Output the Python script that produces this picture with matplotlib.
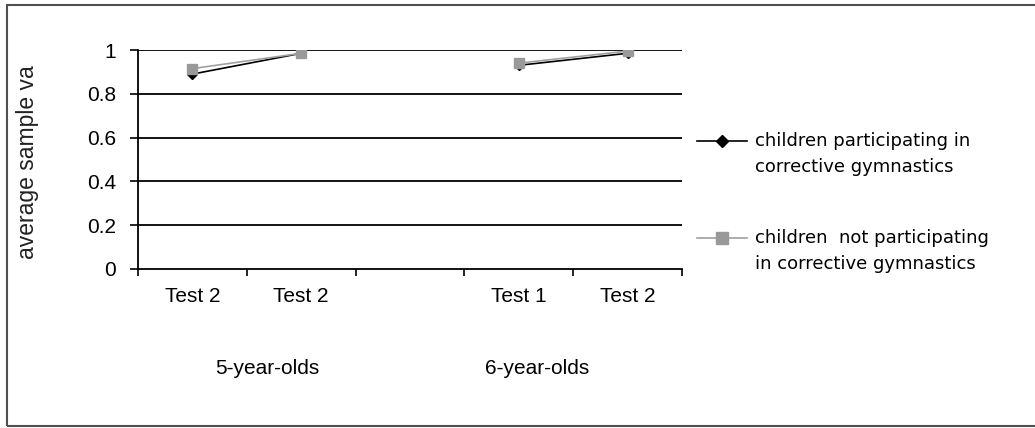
import numpy as np
import matplotlib
matplotlib.use("Agg")
import matplotlib.pyplot as plt
from matplotlib.patches import Rectangle
from matplotlib.lines import Line2D

plt.rcParams['font.family'] = ['Liberation Sans', 'DejaVu Sans']

# slot labels (slot 2 is an empty gap between age groups)
tick_labels = ["Test 2", "Test 2", "", "Test 1", "Test 2"]
group_labels = ["5-year-olds", "6-year-olds"]
group_pos = [0.69, 3.17]

participating = [0.89, 0.985, np.nan, 0.93, 0.985]
not_participating = [0.915, 0.985, np.nan, 0.94, 0.995]

series_names = [["children participating in", "corrective gymnastics"],
                ["children  not participating", "in corrective gymnastics"]]


def px(xp, yp):
    # pixel position (from top-left) -> figure fraction
    return xp/1035, 1-yp/428


def main():
    fig = plt.figure(figsize=(10.35, 4.28), dpi=100)
    ax = fig.add_axes([138/1035, 1-269/428, (682-138)/1035, 219/428])

    x = np.arange(len(tick_labels))
    ax.set_xlim(-0.5, len(tick_labels)-0.5)
    ax.set_ylim(0, 1)

    for yv in [0.2, 0.4, 0.6, 0.8, 1.0]:
        ax.axhline(yv, color="black", lw=1.3, zorder=1)

    styles = [dict(color="black", lw=1.2, marker="D", markersize=5,
                   markerfacecolor="black", markeredgecolor="black"),
              dict(color="#a0a0a0", lw=1.2, marker="s", markersize=7,
                   markerfacecolor="#999999", markeredgecolor="#999999")]

    ax.plot(x, participating, zorder=3, **styles[0])
    ax.plot(x, not_participating, zorder=4, **styles[1])

    ax.set_yticks([0, 0.2, 0.4, 0.6, 0.8, 1])
    ax.set_yticklabels(["0", "0.2", "0.4", "0.6", "0.8", "1"])
    ax.tick_params(axis="y", length=6, width=1.2, pad=10, labelsize=15,
                   direction="out")

    ax.set_xticks(x)
    ax.set_xticklabels(tick_labels)
    ax.tick_params(axis="x", which="major", length=0, pad=13, labelsize=15)
    ax.set_xticks(np.arange(-0.5, len(tick_labels)), minor=True)
    ax.tick_params(axis="x", which="minor", length=5, width=1.2,
                   direction="out")

    for s in ["top", "right"]:
        ax.spines[s].set_visible(False)
    for s in ["left", "bottom"]:
        ax.spines[s].set_linewidth(1.3)

    fig.text(*px(28, 162), "average sample va", fontsize=16.5, rotation=90,
             ha="center", va="center", color="#222222")

    for pos, lab in zip(group_pos, group_labels):
        ax.text(pos, -0.455, lab, fontsize=15, ha="center", va="center",
                transform=ax.get_xaxis_transform())

    # legend, drawn by hand so the key sits on the first text line
    for i, (names, st) in enumerate(zip(series_names, styles)):
        y0 = [141, 238][i]
        fig.add_artist(Line2D([697/1035, 747/1035], [1-y0/428]*2,
                              transform=fig.transFigure, color=st["color"],
                              lw=st["lw"]))
        fig.add_artist(Line2D([722/1035], [1-y0/428],
                              transform=fig.transFigure, linestyle="none",
                              marker=st["marker"],
                              markersize=st["markersize"]+1,
                              markerfacecolor=st["markerfacecolor"],
                              markeredgecolor=st["markeredgecolor"]))
        for j, line in enumerate(names):
            fig.text(*px(755, y0 + 26*j), line, fontsize=13,
                     family="DejaVu Sans", ha="left", va="center")

    fig.add_artist(Rectangle((7/1035, 1-426/428), 1.1, 421/428,
                             transform=fig.transFigure, fill=False,
                             edgecolor="#505050", lw=1.5))

    plt.savefig("out.png", dpi=100)


if __name__ == '__main__':
    main()
